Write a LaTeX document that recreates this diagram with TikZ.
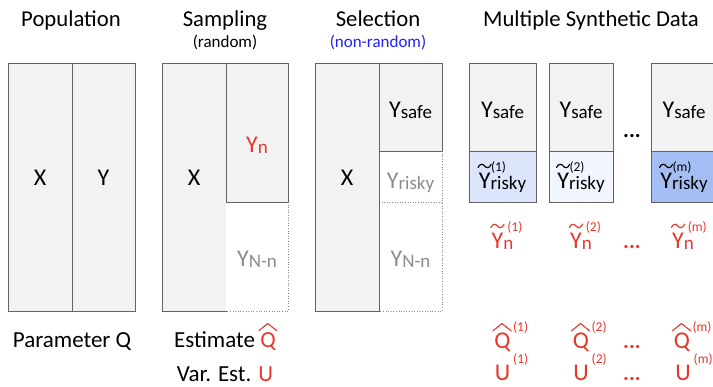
\documentclass[tikz,border=0pt]{standalone}
\usepackage{fontspec}
\setmainfont{Carlito}

\definecolor{cellgray}{HTML}{F2F2F2}
\definecolor{edge}{HTML}{626262}
\definecolor{dotedge}{HTML}{8A8A8A}
\definecolor{riskyA}{HTML}{DCE5FB}
\definecolor{riskyB}{HTML}{F1F5FD}
\definecolor{riskyC}{HTML}{A4BEF4}
\definecolor{hotred}{HTML}{E8362B}
\definecolor{pureblue}{HTML}{2020FF}
\definecolor{softtext}{HTML}{8C8C8C}

% font size helper
\newcommand\fsz[1]{\fontsize{#1}{#1}\selectfont}
% lowered subscript text after a capital
\newcommand\lowtxt[1]{\raisebox{-1.5pt}{\fsz{19}#1}}
% superscript label with zero width
\newcommand\suplab[2]{\rlap{\hspace{#1}\raisebox{17pt}{\fsz{13.5}#2}}}

\begin{document}
\begin{tikzpicture}[x=1pt,y=-1pt,
  cell/.style={draw=edge,line width=0.8pt,fill=cellgray},
  open/.style={fill=white},
  dotline/.style={draw=dotedge,line width=0.6pt,dotted},
  solidline/.style={draw=edge,line width=0.8pt},
  title/.style={inner sep=0pt,anchor=base,font=\fsz{22.7}},
  subtitle/.style={inner sep=0pt,anchor=base,font=\fsz{17}},
  bottomtxt/.style={inner sep=0pt,anchor=base,font=\fsz{23}},
  lab/.style={inner sep=0pt,anchor=base,font=\fsz{24}},
  redlab/.style={lab,text=hotred},
  dots/.style={inner sep=0pt,anchor=base,font=\fsz{22}\bfseries},
  % tilde over a capital Y whose left edge sits at the pic origin
  pics/tildeY/.style={code={
    \draw[line width=1.15pt,line cap=round,#1]
      (-0.6,-20.5) .. controls (1.4,-24.8) and (4.4,-24.2) .. (6,-22)
      .. controls (7.6,-19.8) and (10.6,-19.2) .. (12.6,-23.8);}},
  % wide hat over a capital Q whose left edge sits at the pic origin
  pics/hatQ/.style={code={
    \draw[line width=1.1pt,line join=miter,#1]
      (-1.5,-17) -- (7.8,-24.5) -- (17.1,-17);}}
]
\useasboundingbox (0,0) rectangle (713,386);

% ---- titles
\node[title] (tpop) at (71,26) {Population};
\node[title] (tsam) at (225,26) {Sampling};
\node[subtitle] (tsamr) at (225,47) {(random)};
\node[title] (tsel) at (378,26) {Selection};
\node[subtitle,text=pureblue] (tselr) at (378,47) {(non-random)};
\node[title] (tmul) at (591,26) {Multiple Synthetic Data};

% ---- population
\path[cell] (8,63) rectangle (72,311);
\path[cell] (72,63) rectangle (135,311);
\node[lab] (popx) at (40,185) {X};
\node[lab] (popy) at (103.5,185) {Y};

% ---- sampling
\path[cell] (162,63) rectangle (226,311);
\path[cell] (226,63) rectangle (288,202);
\path[open] (226,202) rectangle (288,311);
\draw[dotline] (288,202) -- (288,311) -- (226,311);
\draw[solidline] (226,202) -- (288,202);
\node[lab] (samx) at (194,185) {X};
\node[redlab] (samyn) at (257,152) {Y\lowtxt{n}};
\node[lab,text=softtext] (samrest) at (257,266) {Y\lowtxt{N-n}};

% ---- selection
\path[cell] (315,63) rectangle (379,311);
\path[cell] (379,63) rectangle (442,151);
\path[open] (379,151) rectangle (442,311);
\draw[dotline] (442,151) -- (442,311) -- (379,311);
\draw[dotline] (379,202) -- (442,202);
\draw[solidline] (379,151) -- (442,151);
\draw[solidline] (379,151) -- (379,311);
\node[lab] (selx) at (347,185) {X};
\node[lab] (selsafe) at (410.5,117) {Y\lowtxt{safe}};
\node[lab,text=softtext] (selrisky) at (410.5,188) {Y\lowtxt{risky}};
\node[lab,text=softtext] (selrest) at (410.5,266) {Y\lowtxt{N-n}};

% ---- synthetic copies
\path[cell] (469,63) rectangle (536,151);
\path[cell,fill=riskyA] (469,151) rectangle (536,202);
\path[cell] (549,63) rectangle (613,151);
\path[cell,fill=riskyB] (549,151) rectangle (613,202);
\path[cell] (651,63) rectangle (718,151);
\path[cell,fill=riskyC] (651,151) rectangle (718,202);

\node[lab] (safeA) at (502.5,117) {Y\lowtxt{safe}};
\node[lab] (safeB) at (581,117) {Y\lowtxt{safe}};
\node[lab] (safeC) at (684,117) {Y\lowtxt{safe}};
\node[dots] (gapbox) at (632,137) {...};

\node[lab] (riskA) at (502.5,188) {Y\suplab{0.5pt}{(1)}\lowtxt{risky}};
\node[lab] (riskB) at (581,188) {Y\suplab{0.5pt}{(2)}\lowtxt{risky}};
\node[lab] (riskC) at (684,188) {Y\suplab{0.5pt}{(m)}\lowtxt{risky}};
\pic at (riskA.base west) {tildeY=black};
\pic at (riskB.base west) {tildeY=black};
\pic at (riskC.base west) {tildeY=black};

% ---- imputed values
\node[redlab] (ynA) at (502.5,248) {Y\suplab{4pt}{(1)}\lowtxt{n}};
\node[redlab] (ynB) at (581,248) {Y\suplab{4pt}{(2)}\lowtxt{n}};
\node[redlab] (ynC) at (683,248) {Y\suplab{4pt}{(m)}\lowtxt{n}};
\node[dots,text=hotred] (gapyn) at (632,248) {...};
\pic at (ynA.base west) {tildeY=hotred};
\pic at (ynB.base west) {tildeY=hotred};
\pic at (ynC.base west) {tildeY=hotred};

% ---- estimates
\node[bottomtxt] (param) at (72,347) {Parameter Q};
\node[bottomtxt,anchor=base west] (est) at (174,347) {Estimate};
\node[bottomtxt,anchor=base west,text=hotred] (estq) at ([xshift=5pt]est.base east) {Q};
\pic[scale=0.96] at (estq.base west) {hatQ=hotred};
\node[bottomtxt] (varest) at (225,381) {Var. Est. {\color{hotred}U}};

\node[redlab] (qA) at (502.5,348) {Q\suplab{2.5pt}{(1)}};
\node[redlab] (qB) at (581,348) {Q\suplab{2.5pt}{(2)}};
\node[redlab] (qC) at (682,348) {Q\suplab{2.5pt}{(m)}};
\pic at (qA.base west) {hatQ=hotred};
\pic at (qB.base west) {hatQ=hotred};
\pic at (qC.base west) {hatQ=hotred};
\node[dots,text=hotred] (gapq) at (632,348) {...};

\node[redlab] (uA) at (502.5,380.5) {U\suplab{3pt}{(1)}};
\node[redlab] (uB) at (581,380.5) {U\suplab{3pt}{(2)}};
\node[redlab] (uC) at (683,380.5) {U\suplab{3pt}{(m)}};
\node[dots,text=hotred] (gapu) at (632,380.5) {...};
\end{tikzpicture}
\end{document}
